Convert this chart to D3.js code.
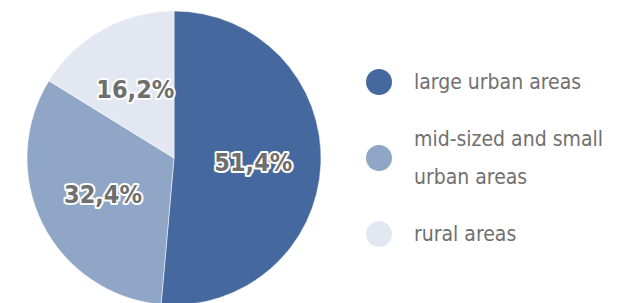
<!DOCTYPE html>
<html>
<head>
<meta charset="utf-8">
<script src="https://cdn.jsdelivr.net/npm/d3@7"></script>
<style>
  body { margin: 0; background: #fff; }
  svg { display: block; font-family: "DejaVu Sans Condensed", "DejaVu Sans", sans-serif; }
</style>
</head>
<body>
<div id="chart"></div>
<script>
const categories = ["large urban areas", "mid-sized and small urban areas", "rural areas"];
const legendLines = [["large urban areas"], ["mid-sized and small", "urban areas"], ["rural areas"]];
const values = [51.4, 32.4, 16.2];
const colors = ["#45699e", "#8fa6c7", "#e2e7f1"];

const width = 626;
const height = 303;
const cx = 174, cy = 158, r = 147;

const data = categories.map((c, i) => ({ name: c, value: values[i], lines: legendLines[i] }));

const svg = d3
  .select("#chart")
  .append("svg")
  .attr("width", width)
  .attr("height", height)
  .attr("viewBox", [0, 0, width, height]);

const color = d3.scaleOrdinal(categories, colors);

const pie = d3.pie().sort(null).value((d) => d.value);
const arcs = pie(data);

const arc = d3.arc().innerRadius(0).outerRadius(r);
const labelArc = d3.arc().innerRadius(r * 0.54).outerRadius(r * 0.54);

const g = svg.append("g").attr("transform", `translate(${cx},${cy})`);

g.selectAll("path")
  .data(arcs)
  .join("path")
  .attr("d", arc)
  .attr("fill", (d) => color(d.data.name))
  .attr("stroke", "#fff")
  .attr("stroke-width", 0.5);

// percentage labels, grey with a white halo
g.selectAll("text.pct")
  .data(arcs)
  .join("text")
  .attr("class", "pct")
  .attr("transform", (d) => {
    const [x, y] = labelArc.centroid(d);
    return `translate(${x},${y})`;
  })
  .attr("text-anchor", "middle")
  .attr("dy", "0.38em")
  .attr("font-size", 25)
  .attr("font-weight", "bold")
  .attr("fill", "#6f6f6f")
  .attr("stroke", "#fff")
  .attr("stroke-width", 4)
  .attr("stroke-linejoin", "round")
  .attr("paint-order", "stroke")
  .text((d) => d3.format(".1f")(d.data.value).replace(".", ",") + "%");

// legend
const legendY = d3.scalePoint().domain(categories).range([82, 234]);

const legend = svg
  .append("g")
  .selectAll("g")
  .data(data)
  .join("g")
  .attr("transform", (d) => `translate(379,${legendY(d.name)})`);

legend.append("circle").attr("r", 13).attr("fill", (d) => color(d.name));

legend
  .append("text")
  .attr("x", 35)
  .attr("font-size", 21)
  .attr("fill", "#707070")
  .selectAll("tspan")
  .data((d) => d.lines.map((t, i, a) => ({ t, off: (i - (a.length - 1) / 2) * 38 })))
  .join("tspan")
  .attr("x", 35)
  .attr("y", (d) => d.off)
  .attr("dy", "0.35em")
  .text((d) => d.t);
</script>
</body>
</html>
